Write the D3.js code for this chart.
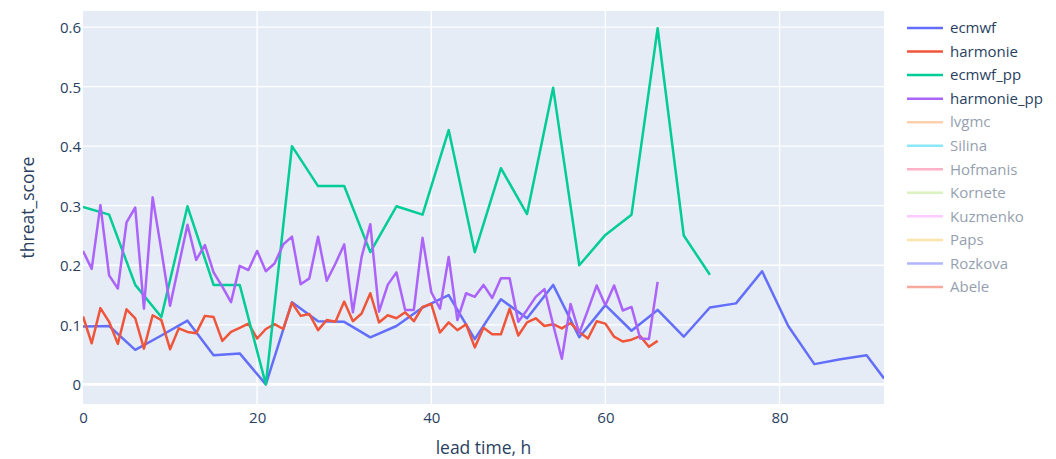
<!DOCTYPE html>
<html>
<head>
<meta charset="utf-8">
<script src="https://cdn.jsdelivr.net/npm/d3@7"></script>
<style>
  html, body { margin: 0; padding: 0; background: #fff; }
  svg { display: block; font-family: "Open Sans", verdana, arial, sans-serif; }
</style>
</head>
<body>
<svg id="chart" width="1056" height="459"></svg>
<script>
// ---- data ----
const hoursHourly = d3.range(0, 67);          // 0..66 h
const hours3 = [0,3,6,9,12,15,18,21,24,27,30,33,36,39,42,45,48,51,54,57,60,63,66,69,72,75,78,81,84,87,90,92];
const hoursPP = [0,3,6,9,12,15,18,21,24,27,30,33,36,39,42,45,48,51,54,57,60,63,66,69,72];

const ecmwf = [0.097,0.098,0.058,0.082,0.107,0.049,0.052,0.0,0.138,0.106,0.105,0.079,0.098,0.129,0.150,0.076,
               0.143,0.111,0.167,0.079,0.133,0.090,0.125,0.080,0.129,0.136,0.190,0.098,0.034,0.042,0.049,0.010];

const harmonie = [0.114,0.069,0.128,0.105,0.068,0.126,0.111,0.060,0.116,0.108,0.059,0.094,0.088,0.086,0.115,0.113,
                  0.073,0.088,0.095,0.102,0.077,0.093,0.101,0.093,0.137,0.115,0.118,0.091,0.108,0.105,0.139,0.106,
                  0.119,0.153,0.104,0.116,0.111,0.121,0.106,0.130,0.135,0.087,0.104,0.091,0.101,0.062,0.095,0.084,
                  0.084,0.127,0.082,0.104,0.111,0.098,0.101,0.094,0.103,0.088,0.077,0.106,0.102,0.080,0.072,0.075,
                  0.081,0.063,0.073];

const ecmwfPP = [0.298,0.285,0.167,0.113,0.299,0.167,0.167,0.0,0.400,0.333,0.333,0.222,0.299,0.285,0.427,0.222,
                 0.363,0.286,0.498,0.200,0.251,0.285,0.598,0.250,0.184];

const harmoniePP = [0.224,0.194,0.301,0.183,0.161,0.272,0.297,0.127,0.314,0.225,0.132,0.200,0.268,0.209,0.234,0.188,
                    0.164,0.138,0.199,0.192,0.224,0.190,0.203,0.235,0.248,0.168,0.178,0.248,0.174,0.203,0.235,0.121,
                    0.214,0.269,0.122,0.167,0.188,0.125,0.125,0.246,0.155,0.127,0.214,0.108,0.153,0.147,0.167,0.145,
                    0.178,0.178,0.105,0.125,0.147,0.160,0.100,0.043,0.135,0.086,0.125,0.166,0.133,0.166,0.124,0.130,
                    0.077,0.076,0.172];

const legendNames = ["ecmwf","harmonie","ecmwf_pp","harmonie_pp","lvgmc","Silina","Hofmanis","Kornete","Kuzmenko","Paps","Rozkova","Abele"];
const legendColors = ["#636efa","#EF553B","#00cc96","#ab63fa","#FFA15A","#19d3f3","#FF6692","#B6E880","#FF97FF","#FECB52","#636efa","#EF553B"];
const legendVisible = [true,true,true,true,false,false,false,false,false,false,false,false];

const xTicks = [0,20,40,60,80];
const yTicks = [0,0.1,0.2,0.3,0.4,0.5,0.6];
const xTitle = "lead time, h";
const yTitle = "threat_score";

// ---- layout ----
const svg = d3.select("#chart");
const L = 83, R = 884, T = 11, B = 404;
const textColor = "#2a3f5f";

const x = d3.scaleLinear().domain([0, 92]).range([L, R]);
const y = d3.scaleLinear().domain([-0.033, 0.627]).range([B, T]);

svg.append("rect").attr("x", L).attr("y", T).attr("width", R - L).attr("height", B - T).attr("fill", "#E5ECF6");

// grid
const gx = svg.append("g");
gx.selectAll("line").data(xTicks.filter(d => d !== 0)).join("line")
  .attr("x1", d => x(d)).attr("x2", d => x(d)).attr("y1", T).attr("y2", B)
  .attr("stroke", "#fff").attr("stroke-width", 1.3);
const gy = svg.append("g");
gy.selectAll("line").data(yTicks).join("line")
  .attr("x1", L).attr("x2", R).attr("y1", d => y(d)).attr("y2", d => y(d))
  .attr("stroke", "#fff").attr("stroke-width", d => d === 0 ? 2.6 : 1.3);

// axes (labels only)
const xAxis = d3.axisBottom(x).tickValues(xTicks).tickSize(0).tickPadding(0).tickFormat(d3.format("d"));
const xa = svg.append("g").attr("transform", `translate(0,${B})`).call(xAxis);
xa.select(".domain").remove();
xa.selectAll("text").attr("dy", null).attr("y", 19).attr("fill", textColor)
  .style("font-size", "15px").style("font-family", '"Open Sans", verdana, arial, sans-serif');

const yAxis = d3.axisLeft(y).tickValues(yTicks).tickSize(0).tickPadding(0).tickFormat(d => d === 0 ? "0" : d3.format(".1f")(d));
const ya = svg.append("g").attr("transform", `translate(${L - 2},0)`).call(yAxis);
ya.select(".domain").remove();
ya.selectAll("text").attr("x", 0).attr("dy", "0.36em").attr("fill", textColor)
  .style("font-size", "15px").style("font-family", '"Open Sans", verdana, arial, sans-serif');

// axis titles
svg.append("text").attr("x", (L + R) / 2).attr("y", 454).attr("text-anchor", "middle")
  .attr("fill", textColor).style("font-size", "17.5px").text(xTitle);
svg.append("text").attr("transform", `translate(34,${(T + B) / 2}) rotate(-90)`).attr("text-anchor", "middle")
  .attr("fill", textColor).style("font-size", "17.5px").text(yTitle);

// lines
const clip = svg.append("clipPath").attr("id", "clip").append("rect")
  .attr("x", L).attr("y", T).attr("width", R - L).attr("height", B - T);
const line = d3.line().x(d => x(d[0])).y(d => y(d[1]));
const series = [
  { xs: hours3, ys: ecmwf, color: legendColors[0] },
  { xs: hoursHourly, ys: harmonie, color: legendColors[1] },
  { xs: hoursPP, ys: ecmwfPP, color: legendColors[2] },
  { xs: hoursHourly, ys: harmoniePP, color: legendColors[3] }
];
const gl = svg.append("g").attr("clip-path", "url(#clip)");
series.forEach(s => {
  gl.append("path").datum(s.xs.map((h, i) => [h, s.ys[i]]))
    .attr("d", line).attr("fill", "none").attr("stroke", s.color)
    .attr("stroke-width", 2.5).attr("stroke-linejoin", "round");
});

// legend
const lg = svg.append("g");
const rowY = d3.scaleLinear().domain([0, legendNames.length - 1]).range([28, 287]);
legendNames.forEach((n, i) => {
  const g = lg.append("g").attr("opacity", legendVisible[i] ? 1 : 0.5);
  g.append("line").attr("x1", 907).attr("x2", 943).attr("y1", rowY(i)).attr("y2", rowY(i))
    .attr("stroke", legendColors[i]).attr("stroke-width", 2.5);
  g.append("text").attr("x", 950).attr("y", rowY(i)).attr("dy", "0.35em")
    .attr("fill", textColor).style("font-size", "15px").text(n);
});
</script>
</body>
</html>
